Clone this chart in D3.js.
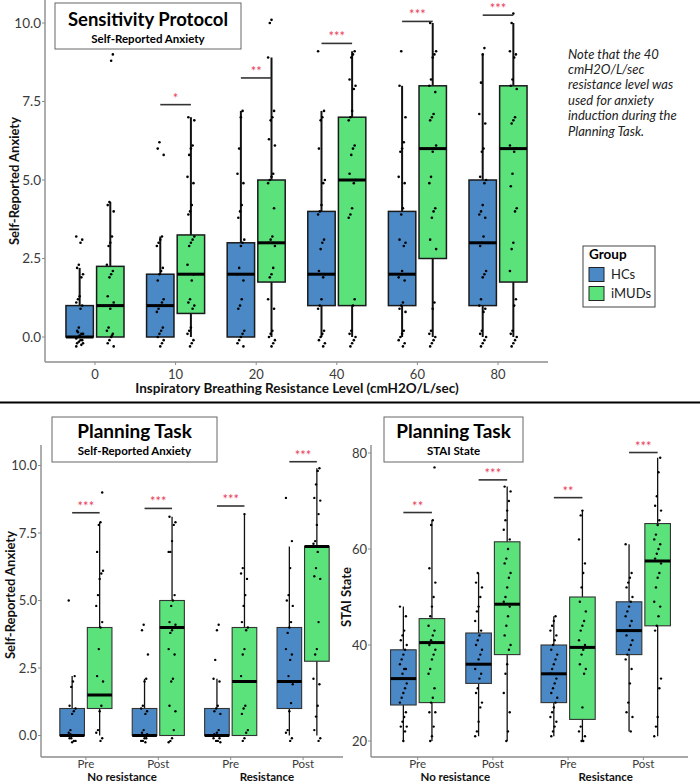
<!DOCTYPE html>
<html>
<head>
  <script src="https://cdnjs.cloudflare.com/ajax/libs/d3/7.8.5/d3.min.js"></script>
  <style>
    body { margin: 0; background: #fff; }
    svg { display: block; }
  </style>
</head>
<body>
<svg id="chart" width="700" height="784"></svg>
<script>
// ---- data ----
var groups = ["HCs", "iMUDs"];
var groupColors = ["#4a89c6", "#5be27b"];

// top panel: sensitivity protocol
var levels = ["0", "10", "20", "40", "60", "80"];
// box stats: [whisker low, q1, median, q3, whisker high]
var levelHCsBox = [[0,0,0,1,2.2],[0,0,1,2,3.2],[0,0,2,3,7.2],[0,1,2,4,7.2],[0,1,2,4,8.0],[0,1,3,5,9.0]];
var levelMUDBox = [[0,0,1,2.25,4.3],[0,0.75,2,3.25,7.0],[0,1.75,3,5,8.9],[0,1,5,7,9.1],[0,2.5,6,8,10.0],[0,1.75,6,8,10.0]];
var levelHCsPts = [
  [3.2,3.1,3.0,2.3,2.2,2.0,1.9,1.3,1.2,1.1,1.0,0.9,0.3,0.2,0.1,0.1,0.0,0.0,-0.05,-0.1,-0.1,-0.15,-0.2,-0.2,-0.25,0.05,0.15,-0.3],
  [6.2,6.0,5.8,3.2,3.1,3.0,2.9,2.2,2.1,2.0,1.8,1.2,1.1,1.0,0.9,0.8,0.3,0.2,0.1,0.0,-0.1,-0.2,-0.3],
  [7.2,7.0,6.0,5.2,4.9,4.2,4.0,3.8,3.1,3.0,2.9,2.2,2.0,1.8,1.2,1.0,0.9,0.2,0.1,0.0,-0.1,-0.2,-0.3],
  [9.1,7.2,7.0,6.9,6.0,5.0,4.9,4.2,4.0,3.9,3.1,3.0,2.8,2.1,2.0,1.9,1.2,1.0,0.9,0.2,0.1,0.0,-0.1,-0.2,-0.3],
  [9.1,8.0,7.0,6.2,6.0,5.9,5.1,4.9,4.1,3.9,3.1,3.0,2.9,2.1,2.0,1.9,1.8,1.1,1.0,0.9,0.8,0.2,0.1,0.0,-0.1,-0.2,-0.3],
  [9.2,9.0,8.1,7.1,6.8,6.0,5.9,5.1,5.0,4.9,4.2,4.0,3.9,3.8,3.2,3.0,2.9,2.1,2.0,1.9,1.2,1.0,0.9,0.8,0.2,0.1,0.0,-0.1,-0.2,-0.3]
];
var levelMUDPts = [
  [9.0,8.8,4.3,4.2,4.0,3.2,3.0,2.9,2.3,2.1,2.0,1.9,1.3,1.1,1.0,0.9,0.3,0.2,0.1,0.0,-0.1,-0.2,-0.3,0.05],
  [7.0,6.9,6.1,6.0,5.8,5.1,4.9,4.2,4.0,3.9,3.2,3.1,3.0,2.9,2.3,2.0,1.8,1.2,1.1,1.0,0.9,0.3,0.2,0.1,-0.1,-0.2,-0.3],
  [10.1,10.0,8.9,7.2,7.0,6.9,6.3,6.1,5.2,5.1,5.0,4.9,4.1,3.2,3.1,3.0,2.9,2.2,2.0,1.9,1.2,0.9,0.2,0.1,0.0,-0.1,-0.2,-0.3],
  [9.1,9.0,8.9,8.2,8.0,7.9,7.2,7.0,6.9,6.1,6.0,5.8,5.2,5.0,4.9,4.1,3.9,3.8,1.2,1.0,0.2,0.1,0.0,-0.1,-0.2,-0.3],
  [10.0,9.1,9.0,8.9,8.2,8.0,7.8,7.1,7.0,6.9,6.1,6.0,5.9,5.1,4.9,4.1,4.0,3.8,3.1,2.8,1.1,0.9,0.2,0.1,0.0,-0.1,-0.2,-0.3],
  [10.3,10.0,9.1,9.0,8.9,8.2,8.0,7.9,7.0,6.9,6.8,6.1,6.0,5.9,5.2,4.8,4.1,4.0,3.0,2.8,2.1,1.2,1.0,0.2,0.1,0.0,-0.1,-0.2,-0.3]
];
var levelSig = ["", "*", "**", "***", "***", "***"];
var levelSigY = [null, 7.4, 8.25, 9.35, 10.05, 10.25];

// bottom panels: planning task
var phases = ["Pre", "Post", "Pre", "Post"];
var conditions = ["No resistance", "Resistance"];

var anxHCsBox = [[0,0,0,1,2.2],[0,0,0,1,2.1],[0,0,0,1,2.1],[0,1,2,4,7.0]];
var anxMUDBox = [[0,1,1.5,4,7.9],[0,0,4,5,8.1],[0,0,2,4,8.2],[0,2.75,7,7,9.9]];
var anxHCsPts = [
  [5.0,2.2,2.0,1.8,1.1,1.0,0.9,0.8,0.2,0.1,0.0,0.0,-0.1,-0.1,-0.2,-0.2,-0.25,0.05],
  [4.1,3.9,3.0,2.1,2.0,1.1,1.0,0.9,0.8,0.2,0.1,0.0,-0.1,-0.1,-0.2,-0.2,0.05,-0.25],
  [4.1,3.9,2.8,2.1,2.0,1.1,1.0,0.9,0.8,0.2,0.1,0.0,-0.1,-0.1,-0.2,-0.2,0.05,-0.25],
  [8.8,7.2,6.2,5.2,5.0,4.8,4.2,4.0,3.8,3.2,3.0,2.8,2.2,2.0,1.9,1.2,0.9,0.2,0.1,-0.1,-0.2]
];
var anxMUDPts = [
  [9.0,7.9,7.8,6.8,6.1,6.0,5.8,5.2,4.8,4.2,4.0,3.2,2.2,2.0,1.1,0.9,0.2,0.1,-0.1,-0.2],
  [8.1,7.9,7.8,7.2,6.8,6.8,5.2,5.0,4.8,4.2,4.1,4.0,3.9,3.8,3.2,3.0,2.1,2.0,1.1,0.9,0.2,-0.1,-0.2,-0.25],
  [8.2,6.2,6.0,5.8,5.2,4.8,4.2,4.0,3.9,3.2,3.0,2.2,2.0,1.1,1.0,0.8,0.2,0.1,-0.1,-0.2],
  [9.9,9.8,9.3,8.8,8.7,8.2,7.8,7.2,7.1,7.0,6.8,6.2,5.9,5.8,4.2,3.2,3.0,2.1,1.9,1.1,0.7,0.2,-0.1,-0.2]
];
var anxSig = ["***", "***", "***", "***"];
var anxSigY = [8.25, 8.41, 8.5, 10.14];

var staiHCsBox = [[20,27.5,33,39,48],[21,32,36,42.5,55],[21,28,34,40,46],[22,38,43,49,61]];
var staiMUDBox = [[20,28,40.5,45.5,66],[20,38,48.5,61.5,73],[20,24.5,39.5,50,68],[21,44,57.5,65.3,79]];
var staiHCsPts = [
  [48,46,43,42,41,40,39,38,37,36,35,35,34,33,32,31,30,29,28,26,25,24,23,23,22,20],
  [55,53,52,50,48,47,45,43,42,41,40,39,38,37,36,35,34,33,31,30,28,27,24,22,21],
  [46,45,44,43,42,41,40,39,38,37,36,35,34,33,32,31,30,29,28,27,26,25,24,23,22,21],
  [61,55,54,53,52,50,49,48,47,46,45,44,43,42,41,40,39,38,37,35,32,28,26,25,22]
];
var staiMUDPts = [
  [77,66,65,56,53,50,48,46,44,43,42,41,40,39,38,37,35,34,31,29,28,26,26,23,21,20],
  [73,72,70,68,66,64,62,60,58,57,55,54,52,50,49,48,46,44,42,40,39,36,34,30,26,22,20],
  [68,67,62,57,55,52,49,47,45,44,43,41,40,39,38,36,35,34,27,23,22,21,20,20],
  [79,76,71,69,68,66,65,63,62,61,60,59,58,57,55,54,52,49,48,46,44,43,33,31,25,23,21]
];
var staiSig = ["**", "***", "**", "***"];
var staiSigY = [67.6, 74.4, 70.7, 80.1];

var noteLines = ["Note that the 40", "cmH2O/L/sec", "resistance level was", "used for anxiety", "induction during the", "Planning Task."];

// ---- drawing ----
var font = "Lato, 'Open Sans', sans-serif";
var svg = d3.select("#chart").style("font-family", font);

// little fixed jitter pattern so points don't sit on one line
function jit(i) { return ((i * 7) % 9 - 4) * 0.85; }

function drawPanel(o) {
  var g = svg.append("g");
  var x = d3.scalePoint().domain(d3.range(o.cats.length)).range([o.left, o.right]).padding(0.62);
  var y = d3.scaleLinear().domain(o.yDomain).range(o.yRange);
  var step = x.step();
  var off = step * 0.19, bw = step * 0.34;

  // axes lines
  g.append("line").attr("x1", o.left).attr("x2", o.left).attr("y1", o.top).attr("y2", o.bottom)
    .attr("stroke", "#8c8c8c").attr("stroke-width", 1.4);
  g.append("line").attr("x1", o.left).attr("x2", o.axisRight).attr("y1", o.bottom).attr("y2", o.bottom)
    .attr("stroke", "#8c8c8c").attr("stroke-width", 1.4);

  // y ticks
  o.yTicks.forEach(function(t) {
    g.append("line").attr("x1", o.left - 3).attr("x2", o.left).attr("y1", y(t)).attr("y2", y(t))
      .attr("stroke", "#8c8c8c");
    g.append("text").attr("x", o.left - 4).attr("y", y(t)).attr("dy", "0.35em")
      .attr("text-anchor", "end").attr("font-size", o.yTickSize).attr("fill", "#3a3a3a")
      .text(o.yFmt(t));
  });
  // x ticks
  o.cats.forEach(function(c, i) {
    g.append("line").attr("x1", x(i)).attr("x2", x(i)).attr("y1", o.bottom).attr("y2", o.bottom + 3)
      .attr("stroke", "#8c8c8c");
    g.append("text").attr("x", x(i)).attr("y", o.bottom + o.tickGap).attr("dy", "0.35em")
      .attr("text-anchor", "middle").attr("font-size", o.xTickSize).attr("fill", "#3a3a3a").text(c);
  });

  // boxes
  [o.boxA, o.boxB].forEach(function(boxes, gi) {
    boxes.forEach(function(b, i) {
      var cx = x(i) + (gi === 0 ? -off : off);
      g.append("line").attr("x1", cx).attr("x2", cx).attr("y1", y(b[0])).attr("y2", y(b[4]))
        .attr("stroke", "#111").attr("stroke-width", o.whisker);
      g.append("rect").attr("x", cx - bw / 2).attr("width", bw)
        .attr("y", y(b[3])).attr("height", y(b[1]) - y(b[3]))
        .attr("fill", groupColors[gi]).attr("stroke", o.boxColor).attr("stroke-width", o.boxStroke);
      g.append("line").attr("x1", cx - bw / 2).attr("x2", cx + bw / 2).attr("y1", y(b[2])).attr("y2", y(b[2]))
        .attr("stroke", "#000").attr("stroke-width", 3);
    });
  });

  // points
  [o.ptsA, o.ptsB].forEach(function(sets, gi) {
    sets.forEach(function(vals, i) {
      var cx = x(i) + (gi === 0 ? -off : off);
      g.selectAll(null).data(vals).enter().append("circle")
        .attr("cx", function(d, k) { return cx + jit(k + i * 3 + gi); })
        .attr("cy", function(d) { return y(d); })
        .attr("r", o.r).attr("fill", "#000");
    });
  });

  // significance brackets
  o.sig.forEach(function(s, i) {
    if (!s) return;
    var yy = y(o.sigY[i]);
    g.append("line").attr("x1", x(i) - off).attr("x2", x(i) + off).attr("y1", yy).attr("y2", yy)
      .attr("stroke", "#333").attr("stroke-width", 1.6);
    g.append("text").attr("x", x(i)).attr("y", yy - 2).attr("text-anchor", "middle")
      .attr("font-size", 13).attr("fill", "#e8405a").text(s);
  });

  // y title
  g.append("text").attr("transform", "translate(" + o.yTitleX + "," + o.yTitleY + ") rotate(-90)")
    .attr("text-anchor", "middle").attr("dy", "0.35em").attr("font-size", 13).attr("font-weight", "bold").attr("fill", "#111")
    .text(o.yTitle);

  // title box
  var tb = o.titleBox;
  g.append("rect").attr("x", tb[0]).attr("y", tb[1]).attr("width", tb[2]).attr("height", tb[3])
    .attr("fill", "#fff").attr("stroke", "#666").attr("stroke-width", 1);
  g.append("text").attr("x", tb[0] + tb[2] / 2).attr("y", tb[1] + tb[4]).attr("text-anchor", "middle")
    .attr("font-size", o.titleSize).attr("font-weight", "bold").attr("fill", "#000").text(o.title);
  g.append("text").attr("x", tb[0] + tb[2] / 2).attr("y", tb[1] + tb[5]).attr("text-anchor", "middle")
    .attr("font-size", 11.5).attr("font-weight", "bold").attr("fill", "#000").text(o.subtitle);
  return x;
}

drawPanel({
  cats: levels, left: 45, right: 548, axisRight: 548, top: 0, bottom: 362, tickGap: 12,
  yTickSize: 13.5, xTickSize: 13,
  yDomain: [0, 10], yRange: [337, 23], yTicks: [0, 2.5, 5, 7.5, 10], yFmt: d3.format(".1f"),
  boxA: levelHCsBox, boxB: levelMUDBox, ptsA: levelHCsPts, ptsB: levelMUDPts,
  sig: levelSig, sigY: levelSigY, whisker: 2, boxStroke: 1.5, boxColor: "#1a1a1a", r: 1.3,
  yTitle: "Self-Reported Anxiety", yTitleX: 14.5, yTitleY: 181,
  titleBox: [55, 3, 186, 46, 23, 39.5], titleSize: 18.5, title: "Sensitivity Protocol", subtitle: "Self-Reported Anxiety"
});
svg.append("text").attr("x", 297).attr("y", 393).attr("text-anchor", "middle")
  .attr("font-size", 13.5).attr("font-weight", "bold").attr("fill", "#111")
  .text("Inspiratory Breathing Resistance Level (cmH2O/L/sec)");

var xl = drawPanel({
  cats: phases, left: 41, right: 348, axisRight: 343, top: 445, bottom: 757, tickGap: 6.5,
  yTickSize: 13, xTickSize: 11.5,
  yDomain: [0, 10], yRange: [735.5, 465.5], yTicks: [0, 2.5, 5, 7.5, 10], yFmt: d3.format(".1f"),
  boxA: anxHCsBox, boxB: anxMUDBox, ptsA: anxHCsPts, ptsB: anxMUDPts,
  sig: anxSig, sigY: anxSigY, whisker: 1.3, boxStroke: 1.1, boxColor: "#333", r: 1.2,
  yTitle: "Self-Reported Anxiety", yTitleX: 10.5, yTitleY: 595,
  titleBox: [52, 417, 165, 45, 21, 38], titleSize: 19, title: "Planning Task", subtitle: "Self-Reported Anxiety"
});
var xr = drawPanel({
  cats: phases, left: 371, right: 690, axisRight: 688, top: 445, bottom: 757, tickGap: 6.5,
  yTickSize: 13, xTickSize: 11.5,
  yDomain: [20, 80], yRange: [741, 453], yTicks: [20, 40, 60, 80], yFmt: d3.format("d"),
  boxA: staiHCsBox, boxB: staiMUDBox, ptsA: staiHCsPts, ptsB: staiMUDPts,
  sig: staiSig, sigY: staiSigY, whisker: 1.3, boxStroke: 1.1, boxColor: "#333", r: 1.2,
  yTitle: "STAI State", yTitleX: 346, yTitleY: 597,
  titleBox: [384, 417, 139, 45, 21, 38], titleSize: 19, title: "Planning Task", subtitle: "STAI State"
});

// condition labels under the planning panels
[xl, xr].forEach(function(x) {
  conditions.forEach(function(c, k) {
    svg.append("text").attr("x", (x(2 * k) + x(2 * k + 1)) / 2).attr("y", 781)
      .attr("text-anchor", "middle").attr("font-size", 11.5).attr("font-weight", "bold").attr("fill", "#111")
      .text(c);
  });
});

// divider
svg.append("line").attr("x1", 0).attr("x2", 700).attr("y1", 402.5).attr("y2", 402.5)
  .attr("stroke", "#000").attr("stroke-width", 2);

// note
svg.append("g").selectAll("text").data(noteLines).enter().append("text")
  .attr("x", 568).attr("y", function(d, i) { return 58.5 + i * 15.4; })
  .attr("font-size", 13).attr("font-style", "italic").attr("fill", "#222")
  .text(function(d) { return d; });

// legend
var lg = svg.append("g");
lg.append("rect").attr("x", 583).attr("y", 246).attr("width", 72).attr("height", 61)
  .attr("fill", "#fff").attr("stroke", "#444").attr("stroke-width", 1);
lg.append("text").attr("x", 589).attr("y", 259).attr("font-size", 13.5).attr("font-weight", "bold").text("Group");
groups.forEach(function(gname, i) {
  lg.append("rect").attr("x", 589).attr("y", 267.5 + i * 19).attr("width", 15).attr("height", 14)
    .attr("fill", groupColors[i]).attr("stroke", "#222").attr("stroke-width", 1);
  lg.append("text").attr("x", 611).attr("y", 274.5 + i * 19).attr("dy", "0.35em")
    .attr("font-size", 13).attr("fill", "#222").text(gname);
});
</script>
</body>
</html>
